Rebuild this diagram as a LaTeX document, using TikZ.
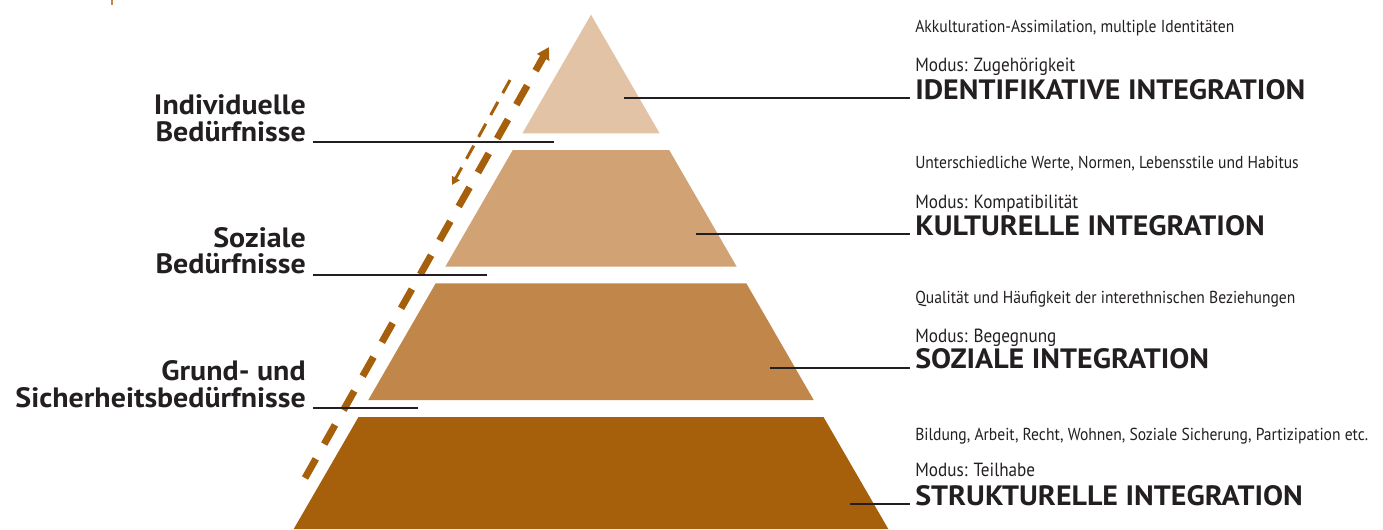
\documentclass[tikz,border=0pt]{standalone}
\usepackage{fontspec}
\setmainfont{PT Sans}[FakeStretch=0.9, BoldFeatures={FakeStretch=1.07}]
\usetikzlibrary{arrows.meta,positioning,calc}
\definecolor{tierA}{RGB}{227,195,165}
\definecolor{tierB}{RGB}{209,162,116}
\definecolor{tierC}{RGB}{192,134,74}
\definecolor{tierD}{RGB}{166,96,12}
\definecolor{ink}{RGB}{35,31,32}
\tikzstyle{leader} = [draw=ink, line width=1.5pt]
\tikzstyle{need} = [font=\bfseries\fontsize{21}{20}\selectfont, text=ink, align=right, inner sep=0pt, anchor=south east]
\tikzstyle{title} = [font=\bfseries\fontsize{21}{20}\selectfont, text=ink, inner sep=0pt, anchor=base west]
\tikzstyle{modus} = [font=\fontsize{14.3}{16}\selectfont, text=ink, inner sep=0pt, anchor=base west]
\tikzstyle{desc} = [font=\fontsize{13}{15}\selectfont, text=ink, inner sep=0pt, anchor=base west]
\tikzstyle{upflow} = [draw=tierD, line width=5.25pt, dash pattern=on 16.5pt off 12.75pt, -{Triangle[length=9pt,width=10pt]}]
\tikzstyle{downflow} = [draw=tierD, line width=2.25pt, dash pattern=on 11.25pt off 7.5pt, -{Triangle[length=6pt,width=6.5pt]}]

\begin{document}
\begin{tikzpicture}[x=0.75pt,y=-0.75pt]
    \useasboundingbox (0,0) rectangle (1383,529);
    \fill[tierC] (110.7,0) rectangle (112.7,5);
    % pyramid, one triangle cut in four tiers
    \fill[tierA] (591,14.7) -- (659.6,133.3) -- (522.4,133.3) -- cycle;
    \fill[tierB] (512.8,150) -- (669.2,150) -- (736.7,266.7) -- (445.3,266.7) -- cycle;
    \fill[tierC] (435.7,283.3) -- (746.3,283.3) -- (813.7,400) -- (368.3,400) -- cycle;
    \fill[tierD] (358.5,417) -- (823.5,417) -- (888.3,529) -- (293.7,529) -- cycle;
    \coordinate (r_1) at (624,98.3);
    \coordinate (r_2) at (696,234.3);
    \coordinate (r_3) at (770,367.7);
    \coordinate (r_4) at (850,504.3);
    \coordinate (l_1) at (554,141.7);
    \coordinate (l_2) at (487,274.5);
    \coordinate (l_3) at (418,408.3);
    % arrows along the left side
    \coordinate (a_1) at (305,478);
    \coordinate (a_2) at (549,47);
    \coordinate (b_1) at (510,80);
    \coordinate (b_2) at (452,185);
    \draw[upflow] (a_1) -- (a_2);
    \draw[downflow] (b_1) -- (b_2);
    % needs on the left
    \node[need](n_1) at (306,141.7) {Individuelle\\Bedürfnisse};
    \node[need](n_2) at (306,274.5) {Soziale\\Bedürfnisse};
    \node[need](n_3) at (306,408.3) {Grund- und\\Sicherheitsbedürfnisse};
    \draw[leader] ([xshift=5.25pt]n_1.south east) -- (l_1);
    \draw[leader] ([xshift=5.25pt]n_2.south east) -- (l_2);
    \draw[leader] ([xshift=5.25pt]n_3.south east) -- (l_3);
    % integration levels on the right
    \node[desc](d_1) at (915,32.3) {Akkulturation-Assimilation, multiple Identitäten};
    \node[modus](m_1) at (915,71.7) {Modus: Zugehörigkeit};
    \node[title](t_1) at (915,99.3) {IDENTIFIKATIVE INTEGRATION};
    \node[desc](d_2) at (915,168.3) {Unterschiedliche Werte, Normen, Lebensstile und Habitus};
    \node[modus](m_2) at (915,208.3) {Modus: Kompatibilität};
    \node[title](t_2) at (915,235.3) {KULTURELLE INTEGRATION};
    \node[desc](d_3) at (915,303.3) {Qualität und Häufigkeit der interethnischen Beziehungen};
    \node[modus](m_3) at (915,342.3) {Modus: Begegnung};
    \node[title](t_3) at (915,368.7) {SOZIALE INTEGRATION};
    \node[desc](d_4) at (915,440) {Bildung, Arbeit, Recht, Wohnen, Soziale Sicherung, Partizipation etc.};
    \node[modus](m_4) at (915,476.7) {Modus: Teilhabe};
    \node[title](t_4) at (915,505.3) {STRUKTURELLE INTEGRATION};
    \draw[leader] (r_1) -- ([xshift=-3.75pt]r_1 -| t_1.west);
    \draw[leader] (r_2) -- ([xshift=-3.75pt]r_2 -| t_2.west);
    \draw[leader] (r_3) -- ([xshift=-3.75pt]r_3 -| t_3.west);
    \draw[leader] (r_4) -- ([xshift=-3.75pt]r_4 -| t_4.west);
\end{tikzpicture}
\end{document}
